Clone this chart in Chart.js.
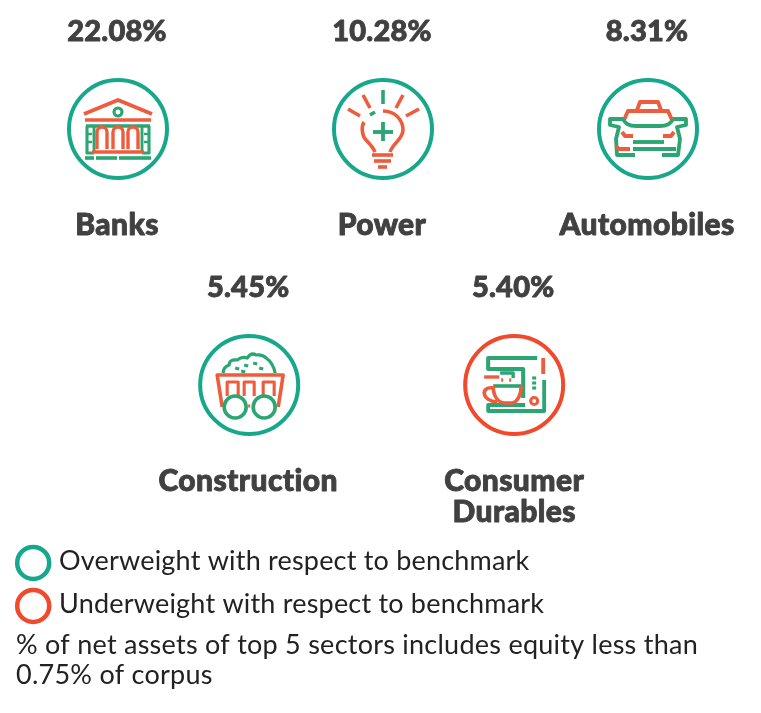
<!DOCTYPE html>
<html>
<head>
<meta charset="utf-8">
<title>Top 5 sectors</title>
<script src="https://cdn.jsdelivr.net/npm/chart.js@4"></script>
<style>
  html, body { margin: 0; padding: 0; background: #fff; }
  canvas { display: block; }
</style>
</head>
<body>
<canvas id="myChart" width="761" height="713"></canvas>
<script>
// chart data
const sectors = ["Banks", "Power", "Automobiles", "Construction", "Consumer Durables"];
const shares = ["22.08%", "10.28%", "8.31%", "5.45%", "5.40%"];
const weights = ["over", "over", "over", "over", "under"];
const legendKeys = ["over", "under"];
const legendLabels = ["Overweight with respect to benchmark", "Underweight with respect to benchmark"];
const noteLines = ["% of net assets of top 5 sectors includes equity less than", "0.75% of corpus"];

const RING = { over: "#17a88b", under: "#f0492b" };
const GREEN = "#2ba673";
const ORANGE = "#ee5c3e";
const DARK = "#414141";

// three sectors on the first row, the rest on the second, about half a slot across
function slotOf(i) {
    return i < 3 ? { x: i, y: 0 } : { x: i - 2.505, y: 1 };
}

function line(ctx, color, width, pts) {
    ctx.strokeStyle = color;
    ctx.lineWidth = width * 1.2;
    ctx.beginPath();
    pts.forEach((p, i) => i ? ctx.lineTo(p[0], p[1]) : ctx.moveTo(p[0], p[1]));
    ctx.stroke();
}

function ring(ctx, color, width, x, y, r) {
    ctx.strokeStyle = color;
    ctx.lineWidth = width * 1.2;
    ctx.beginPath();
    ctx.arc(x, y, r, 0, Math.PI * 2);
    ctx.stroke();
}

// icons, drawn around the ring centre
const icons = {
    Banks(ctx) {
        line(ctx, ORANGE, 3.2, [[-34, -15], [0, -29], [34, -15]]);
        ring(ctx, GREEN, 2.6, 0, -17, 4);
        line(ctx, ORANGE, 3, [[-33, -9], [33, -9]]);
        line(ctx, GREEN, 3, [[-32, -3], [32, -3]]);
        line(ctx, GREEN, 2.6, [[-31, -3], [-31, 24], [-24, 24]]);
        line(ctx, GREEN, 2.6, [[31, -3], [31, 24], [24, 24]]);
        line(ctx, GREEN, 2.4, [[-24, -3], [-24, 24]]);
        line(ctx, GREEN, 2.4, [[24, -3], [24, 24]]);
        [-28, 28].forEach(x => [5, 13].forEach(y => line(ctx, GREEN, 2, [[x - 2, y], [x + 2, y]])));
        [-16, 0, 15].forEach(x => {
            ctx.strokeStyle = ORANGE;
            ctx.lineWidth = 3.4;
            ctx.beginPath();
            ctx.moveTo(x - 5, 20);
            ctx.lineTo(x - 5, 3);
            ctx.arc(x, 3, 5, Math.PI, 0);
            ctx.lineTo(x + 5, 20);
            ctx.stroke();
        });
        line(ctx, ORANGE, 3, [[-26, 23], [26, 23]]);
        line(ctx, GREEN, 3, [[-33, 29], [-24, 29]]);
        line(ctx, GREEN, 3, [[-22, 29], [-1, 29]]);
        line(ctx, GREEN, 3, [[1, 29], [33, 29]]);
    },
    Power(ctx) {
        line(ctx, GREEN, 3, [[0, -39], [0, -25]]);
        line(ctx, ORANGE, 3, [[-20, -34], [-13, -21]]);
        line(ctx, ORANGE, 3, [[20, -34], [13, -21]]);
        line(ctx, ORANGE, 3, [[-35, -20], [-23, -13]]);
        line(ctx, ORANGE, 3, [[36, -20], [23, -13]]);
        line(ctx, GREEN, 3, [[-13, -14], [-8, -17]]);
        ctx.strokeStyle = ORANGE;
        ctx.lineWidth = 3.6;
        ctx.beginPath();
        ctx.moveTo(0, -18);
        ctx.bezierCurveTo(13, -18, 20, -8, 20, 1);
        ctx.bezierCurveTo(20, 10, 10, 14, 7, 23);
        ctx.stroke();
        ctx.beginPath();
        ctx.moveTo(-19, -7);
        ctx.bezierCurveTo(-22, -2, -21, 7, -17, 11);
        ctx.bezierCurveTo(-13, 15, -10, 18, -8, 23);
        ctx.stroke();
        line(ctx, GREEN, 3.2, [[-10, 3], [10, 3]]);
        line(ctx, GREEN, 3.2, [[0, -7], [0, 12]]);
        line(ctx, ORANGE, 3, [[-11, 26], [10, 26]]);
        line(ctx, ORANGE, 3, [[-9, 32], [8, 32]]);
        line(ctx, ORANGE, 3, [[-5, 38], [4, 38]]);
    },
    Automobiles(ctx) {
        line(ctx, ORANGE, 3.2, [[-11, -19], [-8, -27], [10, -27], [13, -19]]);
        line(ctx, ORANGE, 3.2, [[-24, -9], [-20, -18], [20, -18], [24, -9]]);
        line(ctx, GREEN, 3.2, [[-25, -10], [-38, -10], [-38, -4], [-29, -2], [-32, 10], [-31, 26], [-13, 26]]);
        line(ctx, GREEN, 3.2, [[25, -10], [38, -10], [38, -4], [29, -2], [32, 10], [30, 26], [14, 26]]);
        ctx.strokeStyle = GREEN;
        ctx.lineWidth = 3.8;
        ctx.beginPath();
        ctx.moveTo(-25, -10);
        ctx.quadraticCurveTo(-22, -3, -12, -3);
        ctx.lineTo(12, -3);
        ctx.quadraticCurveTo(22, -3, 25, -10);
        ctx.stroke();
        line(ctx, ORANGE, 3.2, [[-26, 3], [-23, 7], [-15, 7]]);
        line(ctx, ORANGE, 3.2, [[26, 3], [23, 7], [15, 7]]);
        line(ctx, ORANGE, 3.2, [[-32, 17], [-29, 20], [-18, 20]]);
        line(ctx, GREEN, 3.2, [[-15, 13], [16, 13]]);
        line(ctx, GREEN, 3.2, [[-15, 20], [28, 20]]);
    },
    Construction(ctx) {
        line(ctx, ORANGE, 3, [[-27, 22], [-32, -10], [34, -10], [29, 22]]);
        line(ctx, ORANGE, 2.6, [[-22, 11], [-22, -3], [-11, -3], [-11, 11]]);
        line(ctx, ORANGE, 2.6, [[-5, 11], [-5, -3], [5, -3], [5, 11]]);
        line(ctx, ORANGE, 2.6, [[14, 11], [14, -3], [25, -3], [25, 11]]);
        line(ctx, ORANGE, 2.6, [[-1, 21], [1, 21]]);
        ring(ctx, GREEN, 3, -14, 22, 11);
        ring(ctx, GREEN, 3, 15, 22, 11);
        ctx.strokeStyle = GREEN;
        ctx.lineWidth = 3.2;
        ctx.beginPath();
        ctx.moveTo(-26, -12);
        ctx.quadraticCurveTo(-26, -18, -20, -20);
        ctx.quadraticCurveTo(-20, -26, -12, -25);
        ctx.quadraticCurveTo(-7, -29, -2, -27);
        ctx.quadraticCurveTo(2, -33, 7, -30);
        ctx.quadraticCurveTo(13, -31, 17, -27);
        ctx.quadraticCurveTo(24, -22, 26, -12);
        ctx.stroke();
        [[-12, -17], [-3, -20], [6, -22], [12, -17], [-6, -14]].forEach(p =>
            line(ctx, GREEN, 2.4, [[p[0] - 2, p[1]], [p[0] + 2, p[1] + 1]]));
    },
    "Consumer Durables"(ctx) {
        line(ctx, GREEN, 3.4, [[23, -27], [-26, -27], [-26, -16], [9, -16], [9, 13]]);
        line(ctx, ORANGE, 3.2, [[29, -27], [29, -11]]);
        line(ctx, ORANGE, 2.8, [[-30, -8], [-15, -8]]);
        line(ctx, GREEN, 2.8, [[-14, -12], [-1, -12], [-1, -7]]);
        line(ctx, ORANGE, 2.8, [[-13, -5], [-11, -5]]);
        line(ctx, ORANGE, 2.8, [[-5, -5], [-3, -5]]);
        [-7, -2, 3].forEach(y => line(ctx, GREEN, 2.6, [[18, y], [22, y]]));
        ring(ctx, ORANGE, 2.6, 20, 16, 3.5);
        line(ctx, GREEN, 3.2, [[30, -5], [30, 26], [-26, 26], [-26, 20], [11, 20]]);
        line(ctx, GREEN, 3, [[-21, 1], [7, 1]]);
        ctx.strokeStyle = ORANGE;
        ctx.lineWidth = 3.6;
        ctx.beginPath();
        ctx.moveTo(-21, 1);
        ctx.bezierCurveTo(-21, 10, -17, 18, -9, 18);
        ctx.lineTo(-3, 18);
        ctx.bezierCurveTo(3, 18, 7, 10, 7, 1);
        ctx.stroke();
        ctx.beginPath();
        ctx.moveTo(-21, 3);
        ctx.bezierCurveTo(-34, 1, -33, 16, -17, 17);
        ctx.stroke();
    }
};

function text(ctx, str, x, y, font, color, align, spacing, heavy) {
    ctx.font = font;
    ctx.fillStyle = color;
    ctx.textAlign = align;
    ctx.textBaseline = "middle";
    ctx.letterSpacing = spacing || "0px";
    ctx.fillText(str, x, y);
    if (heavy) {
        // the installed Lato stops short of the reference's weight
        ctx.strokeStyle = color;
        ctx.lineWidth = heavy;
        ctx.strokeText(str, x, y);
    }
}

// everything that is not a ring: icons, percentages, names, key and note
const infoPlugin = {
    id: "info",
    afterDatasetsDraw(chart) {
        const ctx = chart.ctx;
        const xs = chart.scales.x, ys = chart.scales.y;
        ctx.save();
        ctx.lineCap = "butt";
        ctx.lineJoin = "round";
        sectors.forEach((name, i) => {
            const s = slotOf(i);
            const cx = xs.getPixelForValue(s.x), cy = ys.getPixelForValue(s.y);
            ctx.save();
            ctx.translate(cx, cy);
            icons[name](ctx);
            ctx.restore();
            text(ctx, shares[i], cx - 1, cy - 97, "900 29px Lato", DARK, "center", "0.2px", 0.9);
            if (name === "Consumer Durables") {
                text(ctx, "Consumer", cx, cy + 96, "900 30px Lato", DARK, "center", "0.4px", 0.9);
                text(ctx, "Durables", cx, cy + 127, "900 30px Lato", DARK, "center", "0.4px", 0.9);
            } else {
                text(ctx, name, cx - 1, cy + 96, "900 30px Lato", DARK, "center", "0.4px", 0.9);
            }
        });
        legendLabels.forEach((label, i) => {
            text(ctx, label, 59, 561 + i * 43, "400 27px Lato", "#222", "left", "0.2px");
        });
        noteLines.forEach((label, i) => {
            text(ctx, label, 16, 645 + i * 30, "400 27px Lato", "#222", "left", "0.25px");
        });
        ctx.restore();
    }
};

const ringPoints = sectors.map((name, i) => slotOf(i));
const keyPoints = legendKeys.map((k, i) => ({ x: -0.32, y: 1.695 + i * 0.168 }));

new Chart(document.getElementById("myChart").getContext("2d"), {
    type: "scatter",
    data: {
        datasets: [
            {
                label: "Sectors",
                data: ringPoints,
                pointRadius: 49,
                pointBorderWidth: 4,
                pointBackgroundColor: "rgba(0,0,0,0)",
                pointBorderColor: weights.map(w => RING[w])
            },
            {
                label: "Key",
                data: keyPoints,
                pointRadius: 16,
                pointBorderWidth: 4.5,
                pointBackgroundColor: "rgba(0,0,0,0)",
                pointBorderColor: legendKeys.map(k => RING[k])
            }
        ]
    },
    options: {
        responsive: false,
        animation: false,
        events: [],
        layout: { padding: 0, autoPadding: false },
        plugins: { legend: { display: false }, tooltip: { enabled: false } },
        scales: {
            x: { type: "linear", display: false, min: -118 / 265, max: 643 / 265 },
            y: { type: "linear", display: false, reverse: true, min: -129 / 256, max: 584 / 256 }
        }
    },
    plugins: [infoPlugin]
});
</script>
</body>
</html>
